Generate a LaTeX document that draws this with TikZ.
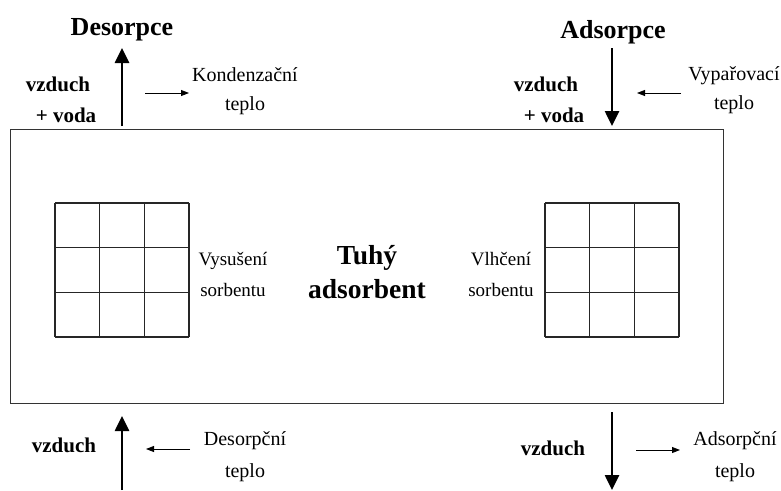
\documentclass[tikz,border=0pt]{standalone}
\usepackage{fontspec}
\setmainfont{Liberation Serif}
\usetikzlibrary{arrows.meta}
\begin{document}
\begin{tikzpicture}[x=1pt,y=-1pt,
  every node/.style={inner sep=0pt,anchor=base},
  bigtext/.style={font=\fontsize{26}{30}\selectfont\bfseries},
  medtext/.style={font=\fontsize{21}{25}\selectfont\bfseries},
  smalltext/.style={font=\fontsize{20}{29}\selectfont,align=center},
  flow/.style={line width=2.6pt,-{Triangle[length=15pt,width=14pt]}},
  heat/.style={line width=0.9pt,-{Triangle[length=8pt,width=6pt]}},
  framebox/.style={draw=black!80,line width=1pt},
  cellline/.style={draw=black!85,line width=1.1pt}]
\useasboundingbox (0,0) rectangle (781,490);

% main frame
\draw[framebox] (10,129) rectangle (723,403);

% grids
\foreach \gx in {55,545}{
  \foreach \i in {0,1,2,3}{
    \draw[cellline] ({\gx+\i*44.67},203) -- ({\gx+\i*44.67},337);
    \draw[cellline] (\gx,{203+\i*44.67}) -- ({\gx+134},{203+\i*44.67});
  }
}

% central labels
\node[align=center,font=\fontsize{27.5}{34}\selectfont\bfseries] (solid) at (367,298) {Tuhý\\adsorbent};
\node[smalltext,font=\fontsize{19}{31}\selectfont] (dry) at (233,296) {Vysušení\\sorbentu};
\node[smalltext,font=\fontsize{19}{31}\selectfont] (wet) at (501,296) {Vlhčení\\sorbentu};

% top left: desorption
\node[bigtext] (des) at (122,35) {Desorpce};
\coordinate (desA) at (122,126);
\coordinate (desB) at (122,48);
\draw[flow] (desA) -- (desB);
\node[medtext] (tlair) at (58,91) {vzduch};
\node[medtext] (tlwater) at (66,122) {+ voda};
\coordinate (kA) at (145,93);
\coordinate (kB) at (189,93);
\draw[heat] (kA) -- (kB);
\node[smalltext] (kond) at (245,110) {Kondenzační\\teplo};

% top right: adsorption
\node[bigtext] (ads) at (613,38) {Adsorpce};
\coordinate (adsA) at (612,48);
\coordinate (adsB) at (612,126);
\draw[flow] (adsA) -- (adsB);
\node[medtext] (trair) at (546,91) {vzduch};
\node[medtext] (trwater) at (554,122) {+ voda};
\coordinate (vA) at (681,93);
\coordinate (vB) at (637,93);
\draw[heat] (vA) -- (vB);
\node[smalltext] (vypar) at (734,109) {Vypařovací\\teplo};

% bottom left
\coordinate (blA) at (122,490);
\coordinate (blB) at (122,416);
\draw[flow] (blA) -- (blB);
\node[medtext] (blair) at (64,452) {vzduch};
\coordinate (dA) at (190,449);
\coordinate (dB) at (146,449);
\draw[heat] (dA) -- (dB);
\node[smalltext,font=\fontsize{20}{32}\selectfont] (desteplo) at (245,477) {Desorpční\\teplo};

% bottom right
\coordinate (brA) at (612,412);
\coordinate (brB) at (612,490);
\draw[flow] (brA) -- (brB);
\node[medtext] (brair) at (553,455) {vzduch};
\coordinate (aA) at (636,450);
\coordinate (aB) at (680,450);
\draw[heat] (aA) -- (aB);
\node[smalltext,font=\fontsize{20}{32}\selectfont] (adsteplo) at (735,477) {Adsorpční\\teplo};
\end{tikzpicture}
\end{document}
